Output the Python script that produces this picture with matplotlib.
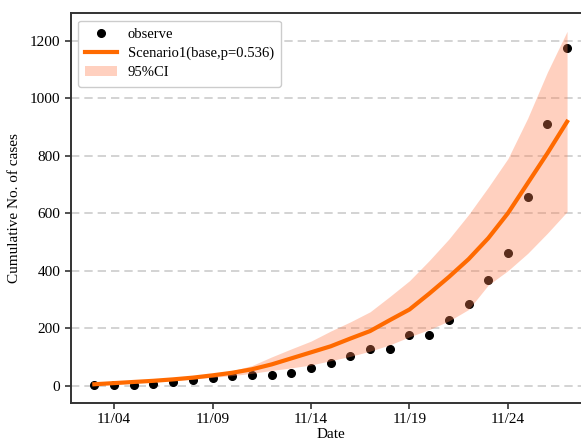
import pandas as pd
import matplotlib
matplotlib.use("Agg")
import matplotlib.pyplot as plt
import matplotlib.dates as mdates

# Data (cumulative cases, 11/03 - 11/27)
DATES = pd.date_range("2020-11-03", "2020-11-27", freq="D")
OBSERVED = [3, 4, 4, 6, 12, 19, 26, 35, 38, 38, 44, 62, 79, 103, 128, 128,
            175, 175, 227, 283, 367, 460, 657, 910, 1175]
MODEL = [5, 9, 13, 17, 22, 28, 36, 45, 57, 74, 95, 116, 137, 164, 190, 228,
         265, 320, 378, 440, 513, 600, 704, 808, 918]
CI_LOW = [4, 7, 10, 14, 18, 23, 29, 35, 43, 53, 62, 72, 87, 102, 120, 142,
          170, 195, 225, 265, 350, 400, 460, 530, 605]
CI_HIGH = [6, 10, 14, 19, 25, 31, 40, 52, 70, 100, 128, 155, 190, 222, 257, 310,
           365, 435, 510, 595, 690, 790, 930, 1090, 1232]
TICK_DATES = DATES[1::5]

plt.rcParams["font.family"] = ["Liberation Serif", "DejaVu Serif"]
plt.rcParams["font.size"] = 11

fig = plt.figure(figsize=(5.81, 4.42), dpi=100)
ax = fig.add_axes([0.1217, 0.089, 0.895, 0.881])

ax.plot(DATES, OBSERVED, "o", color="black", markersize=5.5, label="observe", zorder=2)
ax.plot(DATES, MODEL, color="#ff6a00", linewidth=3, label="Scenario1(base,p=0.536)", zorder=4)
ax.fill_between(DATES, CI_LOW, CI_HIGH, color="#ff7f50", alpha=0.36, linewidth=0,
                label="95%CI", zorder=3)

ax.set_ylim(-59, 1295)
ax.set_yticks(range(0, 1201, 200))
ax.set_xticks(TICK_DATES)
ax.xaxis.set_major_formatter(mdates.DateFormatter("%m/%d"))
ax.grid(axis="y", linestyle="--", color="#cccccc", linewidth=1.2, dashes=(5, 3))
ax.set_axisbelow(True)

for side in ["left", "bottom", "top", "right"]:
    ax.spines[side].set_color("#333333")
    ax.spines[side].set_linewidth(1.4)
ax.tick_params(width=1.2, color="#333333", length=4)

ax.set_xlabel("Date", labelpad=1.5)
ax.set_ylabel("Cumulative No. of cases", labelpad=6)
ax.legend(loc="upper left", fontsize=10.5, handlelength=2.2, handletextpad=0.7,
          borderpad=0.5, labelspacing=0.4, framealpha=1, edgecolor="#cccccc")

fig.savefig("out.png", dpi=100)
